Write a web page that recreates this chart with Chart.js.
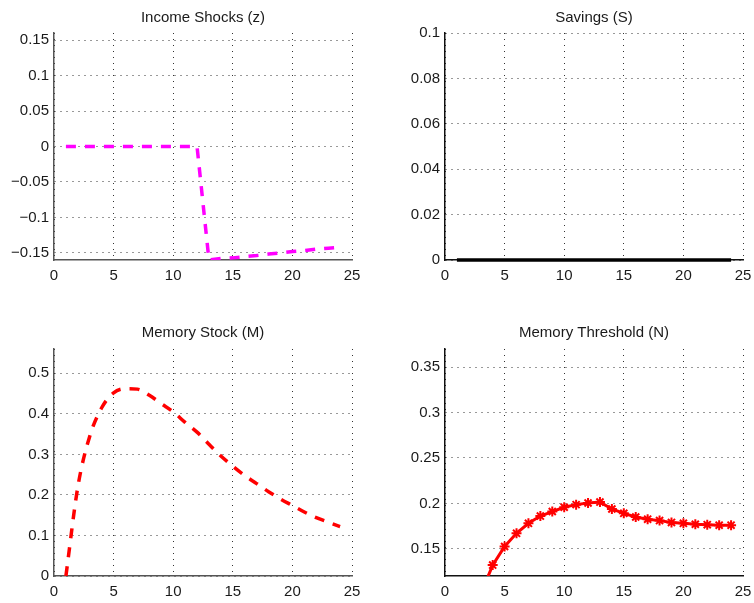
<!DOCTYPE html>
<html><head><meta charset="utf-8">
<script src="https://cdn.jsdelivr.net/npm/chart.js@4"></script>
<style>
html,body{margin:0;padding:0;background:#fff;}
#wrap{position:relative;width:754px;height:603px;overflow:hidden;}
canvas{position:absolute;}
</style></head><body>
<div id="wrap">
<canvas id="cz" width="377" height="300" style="left:0;top:0"></canvas>
<canvas id="cs" width="400" height="300" style="left:377px;top:0"></canvas>
<canvas id="cm" width="377" height="303" style="left:0;top:300px"></canvas>
<canvas id="cn" width="400" height="303" style="left:377px;top:300px"></canvas>
</div>
<script>
// ---- data ----
const periods = [1,2,3,4,5,6,7,8,9,10,11,12,13,14,15,16,17,18,19,20,21,22,23,24];
const incomeShocks = [0,0,0,0,0,0,0,0,0,0,0,0,-0.160,-0.158,-0.157,-0.1552,-0.1538,-0.1517,-0.150,-0.148,-0.1467,-0.1448,-0.1434,-0.142];
const savings = [0,0,0,0,0,0,0,0,0,0,0,0,0,0,0,0,0,0,0,0,0,0,0,0];
const memoryStock = [0,0.220,0.345,0.415,0.452,0.462,0.461,0.446,0.425,0.405,0.379,0.355,0.325,0.296,0.271,0.248,0.228,0.208,0.190,0.174,0.158,0.144,0.133,0.122];
const memoryThreshold = [null,null,0.100,0.132,0.1525,0.167,0.178,0.186,0.191,0.1957,0.1986,0.2004,0.2014,0.1938,0.189,0.185,0.1826,0.181,0.179,0.178,0.177,0.1765,0.176,0.176];

const xTicks = [0,5,10,15,20,25];
const xTickLabels = ['0','5','10','15','20','25'];
const zTicks = [-0.15,-0.1,-0.05,0,0.05,0.1,0.15];
const zTickLabels = ['\u22120.15','\u22120.1','\u22120.05','0','0.05','0.1','0.15'];
const sTicks = [0,0.02,0.04,0.06,0.08,0.1];
const sTickLabels = ['0','0.02','0.04','0.06','0.08','0.1'];
const mTicks = [0,0.1,0.2,0.3,0.4,0.5];
const mTickLabels = ['0','0.1','0.2','0.3','0.4','0.5'];
const nTicks = [0.15,0.2,0.25,0.3,0.35];
const nTickLabels = ['0.15','0.2','0.25','0.3','0.35'];

const titles = ['Income Shocks (z)','Savings (S)','Memory Stock (M)','Memory Threshold (N)'];

Chart.defaults.font.family = "'Liberation Sans', Arial, Helvetica, sans-serif";
Chart.defaults.color = '#1a1a1a';

function pts(ys){ return periods.map((x,i)=>({x:x, y:ys[i]})); }

function makeChart(id, o){
  const gridCommon = {color:'rgba(0,0,0,0.8)', lineWidth:1, drawTicks:false};
  return new Chart(document.getElementById(id), {
    type:'line',
    data:{datasets:[Object.assign({
      data:pts(o.values), pointRadius:0, fill:false, tension:0
    }, o.ds)]},
    options:{
      responsive:false, animation:false, devicePixelRatio:1,
      layout:{padding:{left:0,right:o.padRight,top:0,bottom:0}},
      plugins:{
        legend:{display:false}, tooltip:{enabled:false},
        title:{display:true, text:o.title, fullSize:false, color:'#1a1a1a',
          font:{size:15, weight:'normal', lineHeight:1.2},
          padding:{top:o.titleTop, bottom:o.titleBottom}}
      },
      scales:{
        x:{type:'linear', min:0, max:25,
          afterBuildTicks:(s)=>{ s.ticks = xTicks.map(v=>({value:v})); },
          afterFit:(s)=>{ s.height = o.xHeight; },
          ticks:{font:{size:15}, padding:7, maxRotation:0, autoSkip:false,
            callback:(v,i)=>xTickLabels[i]},
          grid:gridCommon,
          border:{display:true, color:o.axisColor, width:1.5, dash:[1,5]}
        },
        y:{type:'linear', min:o.ymin, max:o.ymax,
          afterBuildTicks:(s)=>{ s.ticks = o.yTicks.map(v=>({value:v})); },
          afterFit:(s)=>{ s.width = o.yWidth; },
          ticks:{font:{size:15}, padding:5, autoSkip:false,
            callback:(v,i)=>o.yLabels[i]},
          grid:gridCommon,
          border:{display:true, color:o.axisColor, width:1.5, dash:[1,5]}
        }
      }
    }
  });
}

makeChart('cz', {values:incomeShocks, title:titles[0], ymin:-0.16, ymax:0.16,
  yTicks:zTicks, yLabels:zTickLabels, yWidth:54, xHeight:40, padRight:25,
  titleTop:9, titleBottom:6, axisColor:'#555',
  ds:{borderColor:'#ff00ff', borderWidth:3.5, borderDash:[10,9]}});

makeChart('cs', {values:savings, title:titles[1], ymin:0, ymax:0.1,
  yTicks:sTicks, yLabels:sTickLabels, yWidth:68, xHeight:40, padRight:34,
  titleTop:9, titleBottom:6, axisColor:'#111',
  ds:{borderColor:'#000000', borderWidth:3.5, clip:false}});

makeChart('cm', {values:memoryStock, title:titles[2], ymin:0, ymax:0.56,
  yTicks:mTicks, yLabels:mTickLabels, yWidth:54, xHeight:27, padRight:25,
  titleTop:24, titleBottom:7, axisColor:'#555',
  ds:{borderColor:'#ff0000', borderWidth:3.5, borderDash:[10,9], cubicInterpolationMode:'monotone'}});

makeChart('cn', {values:memoryThreshold, title:titles[3], ymin:0.12, ymax:0.37,
  yTicks:nTicks, yLabels:nTickLabels, yWidth:68, xHeight:27, padRight:34,
  titleTop:24, titleBottom:7, axisColor:'#111',
  ds:{borderColor:'#ff0000', borderWidth:3, pointStyle:'star', pointRadius:5,
      pointBorderWidth:2, pointBorderColor:'#ff0000', pointBackgroundColor:'#ff0000', clip:0}});
</script>
</body></html>
